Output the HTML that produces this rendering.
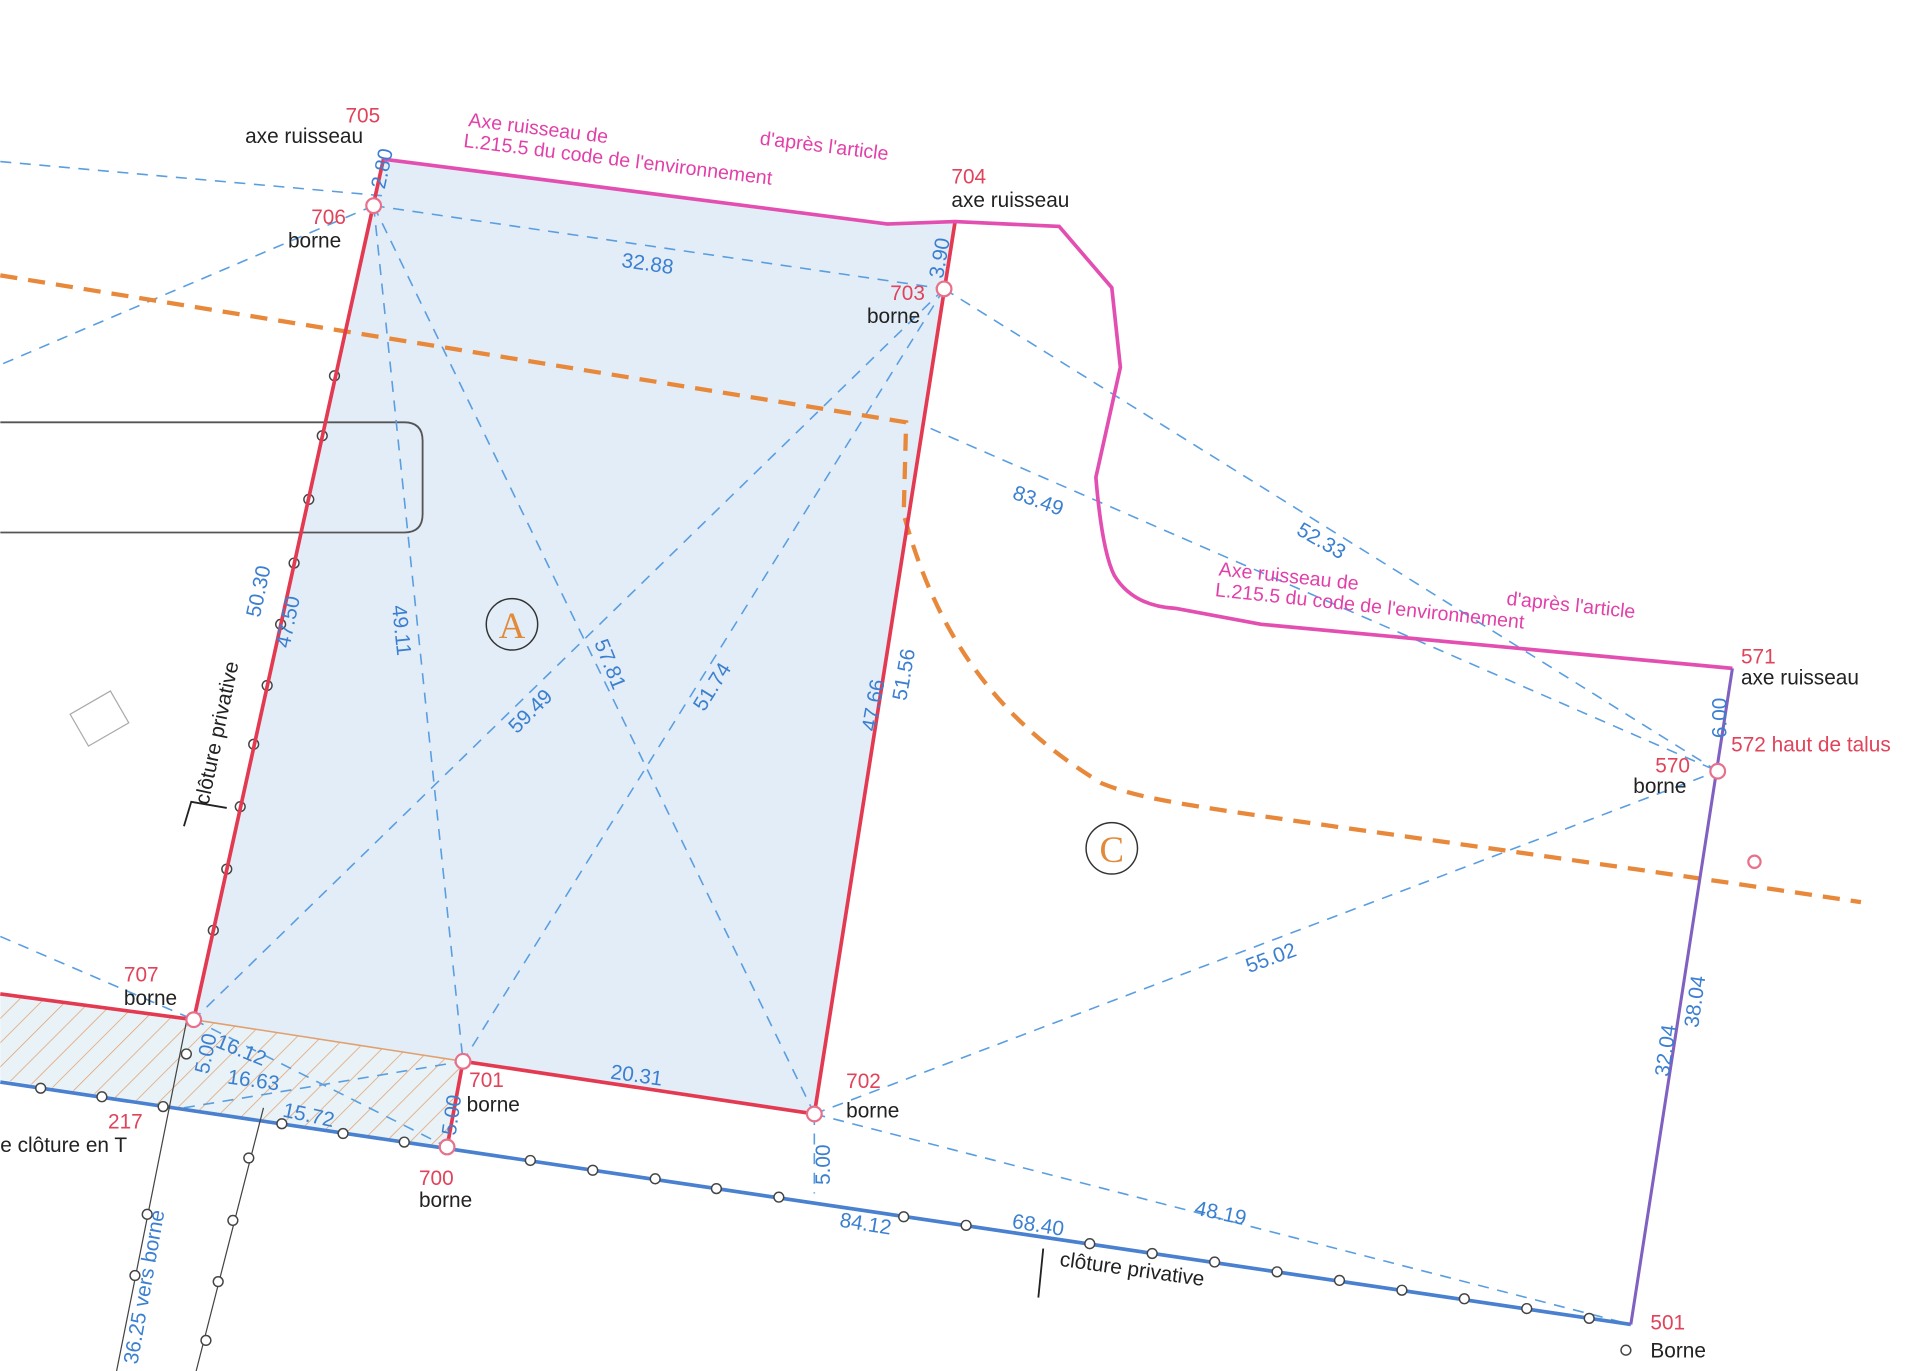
<!DOCTYPE html>
<html><head><meta charset="utf-8"><style>
html,body{margin:0;padding:0;background:#fff;}
svg{display:block;}
text{font-family:"Liberation Sans",sans-serif;}
.r{fill:#e0435a;font-size:17px}
.k{fill:#222;font-size:17px}
.b{fill:#3b7fd0;font-size:17px}
.m{fill:#e23fa8;font-size:16px}
.dash{stroke:#5a9ee0;stroke-width:1.3;stroke-dasharray:9 7;fill:none}
</style></head><body>
<svg width="1920" height="1371" viewBox="0 0 1568 1120" xmlns="http://www.w3.org/2000/svg">
<defs>
<pattern id="h" width="14" height="14" patternUnits="userSpaceOnUse" patternTransform="rotate(45)">
<rect width="14" height="14" fill="#e9f2f6"/><line x1="0" y1="0" x2="0" y2="14" stroke="#e0a070" stroke-width="1.2"/>
</pattern>
</defs>
<polygon points="313,130 725,183 780,181 665,910 378,867 158,833" fill="#e3edf7"/>
<polygon points="0,812 158,833 378,867 365,937 150,905 0,882" fill="url(#h)"/>
<path d="M0,345 L330,345 Q345,345 345,360 L345,420 Q345,435 330,435 L0,435" fill="none" stroke="#555" stroke-width="1.5"/>
<g class="dash">
<line x1="305" y1="168" x2="771" y2="236"/>
<line x1="305" y1="168" x2="378" y2="867"/>
<line x1="305" y1="168" x2="665" y2="910"/>
<line x1="771" y1="236" x2="158" y2="833"/>
<line x1="771" y1="236" x2="378" y2="867"/>
<line x1="771" y1="236" x2="1403" y2="630"/>
<line x1="305" y1="168" x2="0" y2="298"/>
<line x1="0" y1="132" x2="313" y2="160"/>
<line x1="760" y1="350" x2="1403" y2="630"/>
<line x1="665" y1="910" x2="1403" y2="630"/>
<line x1="665" y1="910" x2="1332" y2="1082"/>
<line x1="158" y1="833" x2="365" y2="937"/>
<line x1="150" y1="905" x2="378" y2="867"/>
<line x1="0" y1="765" x2="158" y2="833"/>
<line x1="665" y1="910" x2="665" y2="975"/>
</g>
<path d="M0,225 L740,345 L738,420 C760,500 800,580 900,640 C950,660 1000,660 1520,737" fill="none" stroke="#e8883a" stroke-width="3.5" stroke-dasharray="14 9"/>
<line x1="0" y1="884" x2="1332" y2="1082" stroke="#4a80d0" stroke-width="3"/>
<g fill="#fff" stroke="#444" stroke-width="1.2">
<circle cx="33" cy="889" r="4"/><circle cx="83" cy="896" r="4"/><circle cx="133" cy="904" r="4"/><circle cx="230" cy="918" r="4"/><circle cx="280" cy="926" r="4"/><circle cx="330" cy="933" r="4"/><circle cx="433" cy="948" r="4"/><circle cx="484" cy="956" r="4"/><circle cx="535" cy="963" r="4"/><circle cx="585" cy="971" r="4"/><circle cx="636" cy="978" r="4"/><circle cx="738" cy="994" r="4"/><circle cx="789" cy="1001" r="4"/><circle cx="890" cy="1016" r="4"/><circle cx="941" cy="1024" r="4"/><circle cx="992" cy="1031" r="4"/><circle cx="1043" cy="1039" r="4"/><circle cx="1094" cy="1046" r="4"/><circle cx="1145" cy="1054" r="4"/><circle cx="1196" cy="1061" r="4"/><circle cx="1247" cy="1069" r="4"/><circle cx="1298" cy="1077" r="4"/>
<circle cx="273" cy="307" r="4"/><circle cx="263" cy="356" r="4"/><circle cx="252" cy="408" r="4"/><circle cx="240" cy="460" r="4"/><circle cx="229" cy="510" r="4"/><circle cx="218" cy="560" r="4"/><circle cx="207" cy="608" r="4"/><circle cx="196" cy="659" r="4"/><circle cx="185" cy="710" r="4"/><circle cx="174" cy="760" r="4"/>
<circle cx="152" cy="861" r="4"/><circle cx="1328" cy="1103" r="4"/>
</g>
<path d="M152,835 L95,1120 M215,905 L160,1120" stroke="#444" stroke-width="1" fill="none"/>
<g fill="#fff" stroke="#444" stroke-width="1.2"><circle cx="120" cy="992" r="4"/><circle cx="110" cy="1042" r="4"/><circle cx="203" cy="946" r="4"/><circle cx="190" cy="997" r="4"/><circle cx="178" cy="1047" r="4"/><circle cx="168" cy="1095" r="4"/></g>
<g stroke="#e33a52" stroke-width="3" fill="none">
<polyline points="313,130 158,833"/>
<polyline points="780,181 665,910 378,867 365,937"/>
<polyline points="0,812 158,833"/>
</g>
<line x1="158" y1="833" x2="378" y2="867" stroke="#e0a070" stroke-width="1.3"/>
<path d="M313,130 L725,183 L780,181 L865,185 L908,235 L915,300 L895,390 Q900,450 910,470 Q925,495 960,497 L1030,510 L1415,546" fill="none" stroke="#e34fb0" stroke-width="3"/>
<line x1="1415" y1="546" x2="1332" y2="1082" stroke="#8060c0" stroke-width="2.5"/>
<g fill="#fff" stroke="#e8708a" stroke-width="1.8">
<circle cx="305" cy="168" r="6"/><circle cx="771" cy="236" r="6"/><circle cx="665" cy="910" r="6"/><circle cx="378" cy="867" r="6"/><circle cx="365" cy="937" r="6"/><circle cx="158" cy="833" r="6"/><circle cx="1403" cy="630" r="6"/><circle cx="1433" cy="704" r="5"/>
</g>
<circle cx="418" cy="510" r="21" fill="none" stroke="#333" stroke-width="1.2"/>
<text x="418" y="521" text-anchor="middle" style="font-family:'Liberation Serif',serif;font-size:30px;fill:#e08a3a">A</text>
<circle cx="908" cy="693" r="21" fill="none" stroke="#333" stroke-width="1.2"/>
<text x="908" y="704" text-anchor="middle" style="font-family:'Liberation Serif',serif;font-size:30px;fill:#e08a3a">C</text>
<text class="r" x="282" y="100">705</text><text class="k" x="200" y="117">axe ruisseau</text>
<text class="r" x="254" y="183">706</text><text class="k" x="235" y="202">borne</text>
<text class="r" x="777" y="150">704</text><text class="k" x="777" y="169">axe ruisseau</text>
<text class="r" x="727" y="245">703</text><text class="k" x="708" y="264">borne</text>
<text class="r" x="101" y="802">707</text><text class="k" x="101" y="821">borne</text>
<text class="r" x="383" y="888">701</text><text class="k" x="381" y="908">borne</text>
<text class="r" x="691" y="889">702</text><text class="k" x="691" y="913">borne</text>
<text class="r" x="342" y="968">700</text><text class="k" x="342" y="986">borne</text>
<text class="r" x="88" y="922">217</text><text class="k" x="0" y="941">e clôture en T</text>
<text class="r" x="1422" y="542">571</text><text class="k" x="1422" y="559">axe ruisseau</text>
<text class="r" x="1414" y="614">572 haut de talus</text>
<text class="r" x="1352" y="631">570</text><text class="k" x="1334" y="648">borne</text>
<text class="r" x="1348" y="1086">501</text><text class="k" x="1348" y="1109">Borne</text>
<text class="m" transform="translate(382,103) rotate(7)">Axe ruisseau de</text>
<text class="m" transform="translate(378,120) rotate(7)">L.215.5 du code de l'environnement</text>
<text class="m" transform="translate(620,118) rotate(7)">d'après l'article</text>
<text class="m" transform="translate(995,470) rotate(6)">Axe ruisseau de</text>
<text class="m" transform="translate(992,487) rotate(6)">L.215.5 du code de l'environnement</text>
<text class="m" transform="translate(1230,494) rotate(6)">d'après l'article</text>
<text class="b" transform="translate(507,218) rotate(8)">32.88</text>
<text class="b" transform="translate(314,155) rotate(-78)">2.80</text>
<text class="b" transform="translate(770,228) rotate(-80)">3.90</text>
<text class="b" transform="translate(826,407) rotate(20)">83.49</text>
<text class="b" transform="translate(1058,436) rotate(30)">52.33</text>
<text class="b" transform="translate(212,505) rotate(-78)">50.30</text>
<text class="b" transform="translate(236,530) rotate(-78)">47.50</text>
<text class="b" transform="translate(320,495) rotate(84)">49.11</text>
<text class="b" transform="translate(485,525) rotate(68)">57.81</text>
<text class="b" transform="translate(422,600) rotate(-45)">59.49</text>
<text class="b" transform="translate(575,582) rotate(-58)">51.74</text>
<text class="b" transform="translate(715,598) rotate(-80)">47.66</text>
<text class="b" transform="translate(740,573) rotate(-80)">51.56</text>
<text class="b" transform="translate(1020,795) rotate(-20)">55.02</text>
<text class="b" transform="translate(498,881) rotate(8)">20.31</text>
<text class="b" transform="translate(175,855) rotate(22)">16.12</text>
<text class="b" transform="translate(185,885) rotate(8)">16.63</text>
<text class="b" transform="translate(230,912) rotate(12)">15.72</text>
<text class="b" transform="translate(170,878) rotate(-78)">5.00</text>
<text class="b" transform="translate(372,928) rotate(-82)">5.00</text>
<text class="b" transform="translate(678,968) rotate(-90)">5.00</text>
<text class="b" transform="translate(685,1002) rotate(9)">84.12</text>
<text class="b" transform="translate(826,1003) rotate(9)">68.40</text>
<text class="b" transform="translate(975,992) rotate(12)">48.19</text>
<text class="b" transform="translate(1363,880) rotate(-82)">32.04</text>
<text class="b" transform="translate(1387,840) rotate(-82)">38.04</text>
<text class="b" transform="translate(1410,603) rotate(-90)">6.00</text>
<text class="b" transform="translate(112,1115) rotate(-80)">36.25 vers borne</text>
<text class="k" transform="translate(170,658) rotate(-78)">clôture privative</text>
<path d="M150,675 L156,655 L185,660" stroke="#222" stroke-width="1.5" fill="none"/>
<text class="k" transform="translate(865,1034) rotate(8)">clôture privative</text>
<path d="M848,1060 L852,1020" stroke="#222" stroke-width="1.5" fill="none"/>
<rect x="62" y="572" width="38" height="30" fill="none" stroke="#aaa" transform="rotate(-30 81 587)"/>
</svg>
</body></html>
